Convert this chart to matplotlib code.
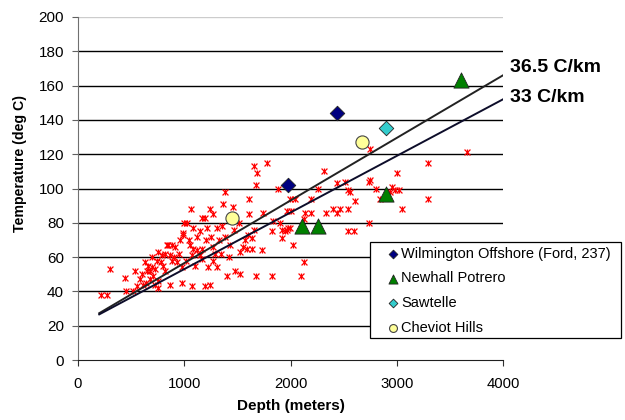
import numpy as np
import matplotlib
matplotlib.use('Agg')
import matplotlib.pyplot as plt
from matplotlib.patches import Rectangle

plt.rcParams['font.family'] = ['Liberation Sans', 'DejaVu Sans']

# Puntos de pozos (profundidad m, temperatura C)
pozos_depth = [213, 276, 298, 442, 451, 520, 536, 583, 552, 615,
               630, 662, 693, 646, 677, 725, 709, 803, 819, 882, 756, 787, 866, 756, 756,
               866, 835, 882, 913, 976, 976, 991, 1000, 992, 850, 700, 740, 780, 820, 680,
               720, 640, 600, 900, 930, 950, 960,
               1023, 1060, 1085, 1148, 1211, 1164, 1195, 1242, 1273, 1054, 1085, 1117, 1164,
               1070, 1148, 1273, 1289, 1430, 1164, 1273, 1305, 1226, 1070, 1195, 1242, 1399,
               1477, 1362, 1462, 1383, 1352, 1305, 1471, 1518, 1040, 1120, 1200, 1250, 1330,
               1380, 1020, 1100, 1350, 1420,
               1525, 1556, 1571, 1587, 1602, 1634, 1634, 1656, 1612, 1612, 1656, 1687, 1675,
               1782, 1744, 1729, 1822, 1832, 1885, 1901, 1917, 1963, 1995, 1917, 1970, 2004,
               1979, 1948, 1525, 1675, 1822,
               2020, 2042, 1995, 2096, 2127, 2127, 2136, 2190, 2190, 2255, 2315, 2334, 2403,
               2434, 2466, 2440, 2512, 2544, 2544, 2544, 2559, 2597, 2606,
               2741, 2741, 2748, 2748, 2804, 2952, 2983, 2936, 3024, 2842, 3297, 3297, 3005,
               3052, 3657]
pozos_temp = [38, 38, 53, 48, 40, 40, 52, 47, 43, 44,
              57, 55, 54, 52, 52, 53, 49, 55, 52, 58, 63, 61, 61, 46, 42,
              44, 67, 67, 66, 45, 54, 74, 80, 73, 67, 60, 58, 57, 62, 47,
              44, 45, 50, 60, 57, 62, 70,
              80, 88, 77, 75, 77, 83, 83, 88, 85, 67, 65, 64, 65,
              61, 61, 66, 62, 67, 59, 58, 54, 54, 43, 43, 44, 49,
              52, 91, 89, 98, 78, 77, 76, 80, 70, 72, 70, 72, 70,
              72, 58, 55, 62, 60,
              63, 66, 70, 65, 73, 71, 65, 76, 85, 94, 113, 109, 102,
              115, 86, 64, 75, 81, 100, 80, 76, 76, 77, 71, 87, 87,
              77, 75, 50, 49, 49,
              67, 94, 94, 49, 57, 82, 86, 86, 94, 100, 110, 86, 88,
              86, 88, 103, 104, 99, 88, 75, 98, 75, 93,
              104, 80, 123, 105, 100, 101, 99, 98, 99, 94, 94, 115, 109,
              88, 121]

# Campos petroleros
wilm_depth = [1975, 2440]
wilm_temp = [102, 144]
newhall_depth = [2110, 2255, 2895, 3605]
newhall_temp = [78, 78, 97, 163]
sawtelle_depth = [2895]
sawtelle_temp = [135]
cheviot_depth = [1445, 2675]
cheviot_temp = [83, 127]

# Gradientes geotermicos
temp_superficie = 20
gradientes = [36.5, 33]
grad_etiquetas = ['36.5 C/km', '33 C/km']
grad_colores = ['#222222', '#0d0d2a']
linea_depth = np.array([200, 4000])

fig = plt.figure(figsize=(6.25, 4.2), dpi=100)
ax = fig.add_axes([78 / 625, 1 - 360 / 420, 425 / 625, 343 / 420])

for y in range(20, 200, 20):
    ax.axhline(y, color='black', lw=1.0, zorder=1)
ax.axhline(200, color='#cccccc', lw=1.0, zorder=1)

# marcador asterisco estilo Excel: x + barra vertical
ax.scatter(pozos_depth, pozos_temp, marker='x', s=18, color='red', linewidths=0.9, zorder=2)
ax.scatter(pozos_depth, pozos_temp, marker='|', s=22, color='red', linewidths=0.9, zorder=2)

for g, c in zip(gradientes, grad_colores):
    ax.plot(linea_depth, temp_superficie + g * linea_depth / 1000, color=c, lw=1.4, zorder=3)

ax.text(4065, 170.8, grad_etiquetas[0], fontsize=14, fontweight='bold', va='center', clip_on=False)
ax.text(4065, 153.3, grad_etiquetas[1], fontsize=14, fontweight='bold', va='center', clip_on=False)

ax.scatter(wilm_depth, wilm_temp, marker='D', s=55, color='#000080', edgecolors='#222222',
           linewidths=0.6, zorder=4, label='Wilmington Offshore (Ford, 237)')
ax.scatter(newhall_depth, newhall_temp, marker='^', s=120, color='#008000', edgecolors='#222222',
           linewidths=0.6, zorder=4, label='Newhall Potrero')
ax.scatter(sawtelle_depth, sawtelle_temp, marker='D', s=55, color='#33cccc', edgecolors='#222222',
           linewidths=0.6, zorder=4, label='Sawtelle')
ax.scatter(cheviot_depth, cheviot_temp, marker='o', s=90, color='#ffff99', edgecolors='#444444',
           linewidths=0.8, zorder=4, label='Cheviot Hills')

ax.set_xlim(0, 4000)
ax.set_ylim(0, 200)
ax.set_xticks(range(0, 4001, 1000))
ax.set_yticks(range(0, 201, 20))
ax.tick_params(axis='y', direction='out', length=4, color='#606060', labelsize=11, pad=6)
ax.tick_params(axis='x', direction='out', length=4, color='#303030', labelsize=10.7, pad=8)
for s in ['top', 'right']:
    ax.spines[s].set_visible(False)
ax.spines['left'].set_color('#707070')
ax.spines['bottom'].set_color('#202020')

ax.set_xlabel('Depth (meters)', fontsize=11, fontweight='bold', labelpad=6)
fig.text(20 / 625, 1 - 164 / 420, 'Temperature (deg C)', fontsize=10.2, fontweight='bold',
         rotation=90, ha='center', va='center')

# leyenda con marco propio
fig.patches.append(Rectangle((370 / 625, 1 - 338 / 420), 251 / 625, 96 / 420,
                             transform=fig.transFigure, facecolor='white',
                             edgecolor='black', lw=0.9, zorder=5))
handles, labels = ax.get_legend_handles_labels()
leg = fig.legend(handles, labels, loc='upper left', bbox_to_anchor=(386 / 625, 1 - 247 / 420),
                 fontsize=10.5, frameon=False, handletextpad=0.05, handlelength=1.0,
                 markerscale=0.6, borderpad=0, labelspacing=0.72, borderaxespad=0)
leg.set_zorder(6)

fig.savefig('out.png', dpi=100)
